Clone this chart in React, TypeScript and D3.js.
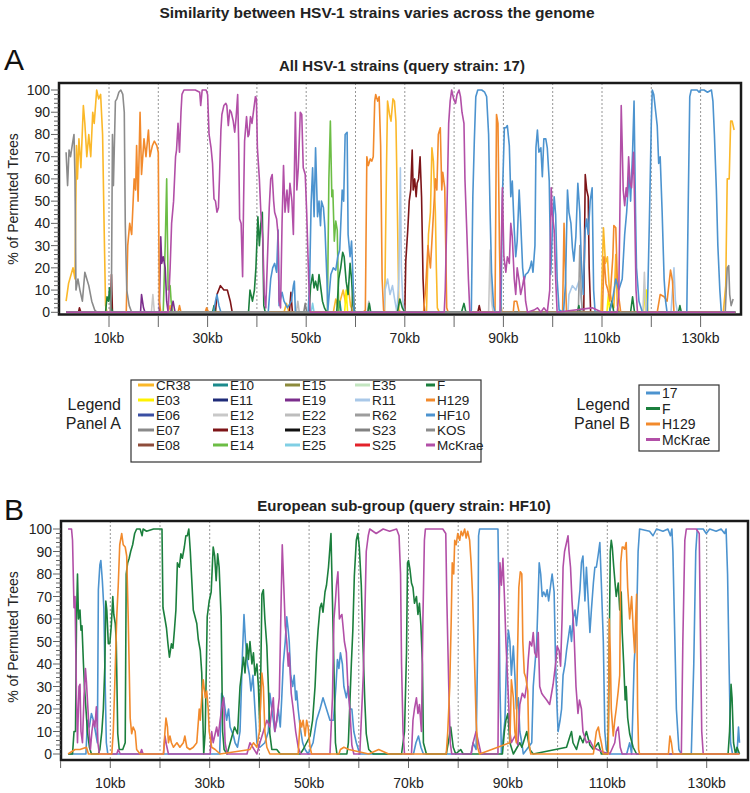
import React from "react";
import * as d3 from "d3";

type Pt = [number, number];

const TITLE = "Similarity between HSV-1 strains varies across the genome";
const TITLE_A = "All HSV-1 strains (query strain: 17)";
const TITLE_B = "European sub-group (query strain: HF10)";
const Y_LABEL = "% of Permuted Trees";
const yTicks = [0, 10, 20, 30, 40, 50, 60, 70, 80, 90, 100];
const yMinor = d3.range(0, 100.01, 2);
const xGridKb = [10, 20, 30, 40, 50, 60, 70, 80, 90, 100, 110, 120, 130];
const xTickKbB = [0, 10, 20, 30, 40, 50, 60, 70, 80, 90, 100, 110, 120, 130];
const xLabelKb = [10, 30, 50, 70, 90, 110, 130];

// ---------- Panel A series (kb, % of permuted trees) ----------
const CR38: Pt[] = [[1.3,5],[1.8,13],[2.7,20],[3.1,15],[3.4,75],[3.6,60],[3.9,78],[4.3,65],[4.8,93],[5.1,85],[5.5,70],[5.9,80],[6.3,70],[6.7,90],[7.0,85],[7.5,100],[7.9,96],[8.3,98],[8.7,80],[9.0,40],[9.3,3],[9.6,0],[22,0],[22.4,3],[22.8,0],[45.5,0],[46,4],[46.5,0],[55.5,0],[56,6],[56.5,2],[57.5,10],[58,4],[58.5,12],[59,3],[59.5,0],[65.9,0],[66.3,67],[66.5,95],[66.9,89],[67.2,86],[67.6,96],[67.9,95],[68.2,86],[68.4,60],[68.8,1],[69.2,0],[74.4,0],[74.8,35],[75.2,45],[75.5,74],[75.8,68],[76.2,45],[76.4,20],[76.6,2],[77,0],[109.8,0],[110.3,38],[110.7,22],[111.1,25],[111.5,10],[112,5],[112.4,2],[112.8,26],[113.1,3],[113.5,0],[134.6,0],[135.1,12],[135.4,60],[135.8,60],[136.1,86],[136.4,86],[136.8,82]];
const E03: Pt[] = [[1.3,0],[57.8,0],[58.1,10],[58.4,0],[111.0,0],[111.3,8],[111.6,0],[118.4,0],[118.7,8],[119.0,10],[119.3,0],[137,0]];
const E06: Pt[] = [[1.3,0],[137,0]];
const E07: Pt[] = [[1.3,72],[1.6,57],[1.9,73],[2.2,70],[2.6,76],[2.9,80],[3.1,60],[3.3,10],[3.7,15],[4.1,10],[4.6,5],[5.1,18],[5.5,15],[5.9,12],[6.5,5],[7.1,1],[7.6,0],[137,0]];
const E08: Pt[] = [[1.3,0],[137,0]];
const E10: Pt[] = [[1.3,0],[56.5,0],[56.8,5],[57.1,0],[137,0]];
const E11: Pt[] = [[1.3,0],[137,0]];
const E12: Pt[] = [[1.3,0],[18.6,0],[18.9,8],[19.2,0],[87.0,0],[87.3,28],[87.6,5],[87.9,0],[118.3,0],[118.6,18],[118.9,0],[137,0]];
const E13: Pt[] = [[1.3,0],[3.8,0],[4.0,2],[4.3,0],[10.3,0],[10.5,17],[10.7,0],[31.6,0],[31.9,8],[32.6,12],[33.3,10],[34.0,10],[34.6,5],[35,0],[46.6,0],[46.9,9],[47.2,0],[70.0,0],[70.2,23],[70.6,37],[70.9,50],[71.2,55],[71.5,73],[71.7,55],[72.0,60],[72.3,52],[72.5,58],[72.8,60],[73.1,70],[73.4,52],[73.7,15],[74.0,0],[84.8,0],[85.1,3],[85.4,0],[106.3,0],[106.6,62],[106.9,55],[107.2,52],[107.4,20],[107.7,0],[137,0]];
const E14: Pt[] = [[1.3,0],[21.0,0],[21.4,30],[21.7,60],[22.0,10],[22.4,12],[22.6,5],[22.9,0],[54.3,0],[54.6,60],[54.9,86],[55.2,52],[55.4,55],[55.7,32],[56.0,41],[56.3,37],[56.6,0],[137,0]];
const E15: Pt[] = [[1.3,0],[59.2,0],[59.5,12],[59.8,0],[137,0]];
const E19: Pt[] = [[1.3,0],[16.4,0],[16.6,8],[17.0,2],[17.3,0],[20.2,0],[20.5,34],[20.7,22],[21.0,25],[21.4,20],[21.7,5],[22.0,0],[22.5,0],[23,5],[23.4,0],[137,0]];
const E22: Pt[] = [[1.3,0],[48.0,0],[48.3,5],[48.6,0],[62.4,0],[62.7,5],[63.0,0],[137,0]];
const E23: Pt[] = [[1.3,0],[137,0]];
const E25: Pt[] = [[1.3,0],[51.0,0],[51.3,4],[51.6,0],[137,0]];
const E35: Pt[] = [[1.3,0],[137,0]];
const R11: Pt[] = [[1.3,0],[65.8,0],[66.0,10],[66.5,15],[67.0,8],[67.5,12],[68.0,5],[68.4,0],[68.8,15],[69.1,65],[69.3,20],[69.6,5],[69.9,0],[103.1,0],[103.3,8],[104.0,12],[104.7,10],[105.3,14],[105.8,5],[106.1,0],[124.0,0],[124.3,10],[124.6,20],[124.9,5],[125.3,0],[137,0]];
const R62: Pt[] = [[1.3,0],[105.2,0],[105.5,30],[105.8,8],[106.0,0],[137,0]];
const S23: Pt[] = [[1.3,0],[49.5,0],[49.8,4],[50.1,0],[137,0]];
const S25: Pt[] = [[1.3,0],[137,0]];
const F_A: Pt[] = [[1.3,0],[9.3,0],[9.6,7],[9.9,5],[10.1,11],[10.4,2],[10.8,0],[31,0],[31.3,3],[31.6,0],[38.3,0],[38.6,10],[39.1,5],[39.5,10],[39.8,20],[40.2,43],[40.5,30],[40.8,40],[41.1,45],[41.4,3],[41.7,0],[50.6,0],[50.9,12],[51.3,17],[51.6,11],[51.9,14],[52.3,10],[52.6,17],[52.9,12],[53.3,5],[53.7,2],[54.2,0],[56.2,0],[56.6,15],[57.0,20],[57.4,27],[57.7,25],[58.1,14],[58.5,8],[58.9,22],[59.2,15],[59.5,3],[59.9,0],[62.5,0],[62.8,4],[63.1,0],[68.5,0],[69,6],[69.5,2],[70,0],[81.5,0],[82,4],[82.4,0],[105,0],[105.3,3],[105.6,0],[111.5,0],[112,5],[112.4,0],[115.8,0],[116.2,7],[116.6,0],[125.5,0],[125.8,3],[126.1,0],[137,0]];
const H129_A: Pt[] = [[1.3,0],[13.5,0],[13.8,30],[14.2,40],[14.6,35],[14.8,45],[15.1,60],[15.4,55],[15.6,75],[15.9,50],[16.3,90],[16.6,62],[17.1,78],[17.5,70],[18.0,82],[18.3,70],[18.8,75],[19.2,77],[19.7,75],[20.0,72],[20.2,5],[20.5,0],[24,0],[24.3,3],[24.6,0],[29.5,0],[29.8,2],[30.2,0],[61.5,0],[62.0,1],[62.3,70],[62.6,66],[63.0,69],[63.3,68],[63.6,70],[63.9,95],[64.1,98],[64.5,95],[64.8,97],[65.1,75],[65.4,15],[65.7,1],[66,0],[73.8,0],[74.2,10],[74.7,30],[75.2,20],[75.7,40],[76.2,60],[76.5,55],[76.8,80],[77.2,83],[77.5,55],[77.7,63],[78.1,56],[78.3,30],[78.5,2],[78.8,0],[88.0,0],[88.3,1],[88.6,89],[88.9,85],[89.2,30],[89.4,5],[89.7,0],[92.0,0],[92.2,5],[92.7,5],[93.2,0],[102,0],[102.3,40],[102.6,15],[102.8,0],[110.1,0],[110.4,25],[110.8,13],[111.2,10],[111.6,5],[112.2,25],[112.4,39],[112.8,38],[113.1,15],[113.4,7],[113.8,0],[121.2,0],[121.8,8],[122.6,7],[123.2,5],[123.9,19],[124.3,14],[124.6,0],[137,0]];
const HF10_A: Pt[] = [[1.3,0],[31.2,0],[31.6,5],[31.9,8],[32.3,3],[32.7,0],[42.3,0],[42.8,15],[43.2,20],[43.6,22],[44.0,18],[44.3,37],[44.5,3],[45.1,9],[45.5,5],[46.2,2],[47.0,5],[47.4,12],[47.6,14],[47.8,0],[50.4,0],[50.7,15],[51.0,49],[51.3,65],[51.6,43],[51.9,74],[52.3,43],[52.6,50],[52.9,39],[53.1,50],[53.5,47],[53.8,38],[54.2,15],[54.4,1],[55.0,17],[55.5,20],[56.0,19],[56.4,25],[56.8,28],[57.3,55],[57.6,50],[57.9,80],[58.3,81],[58.5,35],[58.9,25],[59.2,32],[59.5,15],[59.7,0],[83.3,0],[83.5,1],[83.8,52],[84.1,77],[84.4,97],[84.8,100],[85.6,100],[86.2,99],[86.6,97],[87.0,80],[87.3,45],[87.6,18],[88.0,3],[88.3,0],[89.5,0],[89.8,52],[90.2,83],[90.5,83],[90.8,84],[91.2,75],[91.5,52],[91.8,59],[92.2,37],[92.5,25],[92.8,32],[93.2,55],[93.5,41],[93.9,20],[94.2,14],[94.5,17],[95.0,18],[95.4,20],[95.7,23],[96.0,18],[96.4,30],[96.6,74],[96.9,82],[97.2,72],[97.6,74],[97.9,61],[98.2,78],[98.6,78],[98.9,74],[99.3,59],[99.6,17],[99.9,35],[100.3,52],[100.6,44],[100.9,15],[101.3,1],[102.2,0],[102.6,13],[103.0,55],[103.3,45],[103.7,40],[104.0,29],[104.3,23],[104.7,34],[105.1,58],[105.5,45],[105.8,23],[106.2,8],[106.6,37],[106.9,42],[107.2,35],[107.6,50],[108.0,56],[108.3,10],[108.6,0],[111.5,0],[112.1,5],[112.8,15],[113.4,10],[114.1,15],[114.6,35],[115.0,45],[115.5,63],[115.8,50],[116.2,72],[116.5,95],[116.8,45],[117.0,20],[117.5,5],[118.2,0],[119.2,0],[119.6,40],[120.0,85],[120.2,100],[120.5,98],[120.9,90],[121.2,84],[121.5,67],[121.8,70],[122.2,45],[122.6,15],[122.9,5],[123.2,0],[127.2,0],[127.5,50],[127.8,97],[128.1,100],[129.3,100],[129.7,99],[130.0,100],[130.7,100],[131.4,99],[132.2,100],[132.5,95],[132.8,80],[133.2,55],[133.5,30],[133.9,10],[134.2,0],[137,0]];
const KOS: Pt[] = [[1.3,0],[10.3,0],[10.5,10],[10.7,80],[10.9,57],[11.3,95],[11.6,96],[12.0,99],[12.4,100],[12.8,98],[13.1,90],[13.3,40],[13.6,10],[14.1,3],[14.6,0],[135,0],[135.4,20],[135.7,21],[135.9,8],[136.2,3],[136.6,6]];
const McKrae_A: Pt[] = [[1.3,0],[22.0,0],[22.4,20],[22.7,40],[23.1,50],[23.5,70],[23.7,73],[24.0,85],[24.3,72],[24.6,90],[24.8,98],[25.2,100],[26.5,100],[27.5,100],[28.4,99],[28.6,93],[28.9,100],[29.7,100],[30.0,98],[30.3,80],[30.7,74],[31.0,67],[31.3,51],[31.6,50],[31.9,45],[32.2,47],[32.4,60],[32.7,82],[32.9,89],[33.3,93],[33.7,94],[33.9,93],[34.2,84],[34.5,91],[34.8,90],[35.2,86],[35.5,81],[35.8,88],[36.1,98],[36.3,76],[36.5,42],[36.8,40],[37.1,16],[37.3,50],[37.5,77],[37.9,88],[38.2,79],[38.4,80],[38.7,88],[39.0,85],[39.4,92],[39.7,97],[39.9,96],[40.1,74],[40.5,60],[40.8,45],[41.2,33],[41.5,8],[41.8,2],[42.2,28],[42.5,47],[42.8,60],[43.1,62],[43.4,50],[43.6,45],[44.0,42],[44.3,35],[44.5,5],[44.8,2],[45.1,40],[45.4,66],[45.7,45],[46.1,55],[46.4,45],[46.7,58],[47.1,50],[47.4,35],[47.8,90],[48.1,55],[48.4,65],[48.8,90],[49.1,89],[49.4,65],[49.8,62],[50.1,45],[50.5,15],[50.8,0],[78.0,0],[78.2,10],[78.5,40],[78.9,85],[79.2,95],[79.5,100],[79.9,96],[80.3,94],[80.6,98],[81.0,100],[81.3,97],[81.6,90],[82.0,85],[82.2,60],[82.6,35],[82.9,15],[83.2,0],[89.3,0],[89.8,56],[90.1,25],[90.5,18],[90.8,25],[91.2,22],[91.5,40],[91.8,34],[92.2,15],[92.5,8],[92.8,20],[93.2,14],[93.5,8],[93.9,12],[94.2,16],[94.5,5],[94.9,0],[96.2,1],[96.9,2],[97.6,0],[98.2,2],[98.9,0],[99.4,10],[99.7,56],[99.9,45],[100.3,37],[100.6,15],[100.9,0],[108.0,2],[110.0,0],[113.1,0],[113.4,8],[113.6,40],[113.9,93],[114.1,75],[114.3,55],[114.6,48],[114.9,56],[115.1,52],[115.4,70],[115.7,58],[116.0,56],[116.4,72],[116.6,50],[116.9,10],[117.2,0],[137,0]];

const strainsA = ["CR38","E03","E06","E07","E08","E10","E11","E12","E13","E14","E15","E19","E22","E23","E25","E35","R11","R62","S23","S25","F","H129","HF10","KOS","McKrae"];
const colorsA = ["#fbb829","#fff200","#3a4fa3","#8a8a8a","#8e4c3b","#1b8a8c","#1f2b78","#c8c8c8","#7d1417","#6cbd45","#8c8a3c","#7b2d8c","#bdbdbd","#111111","#80cfe4","#c3e5c0","#a9c8e8","#9d9d9d","#828282","#e3222a","#1b7f3d","#f28a2c","#4c93cf","#8c8c8c","#b24fa7"];
const seriesA: Pt[][] = [CR38,E03,E06,E07,E08,E10,E11,E12,E13,E14,E15,E19,E22,E23,E25,E35,R11,R62,S23,S25,F_A,H129_A,HF10_A,KOS,McKrae_A];

// ---------- Panel B series ----------
const S17_B: Pt[] = [[1.5,0],[5.1,0],[5.4,15],[5.8,12],[6.2,18],[6.6,15],[7.0,10],[7.4,5],[7.6,73],[7.9,84],[8.1,86],[8.4,77],[8.7,65],[8.9,39],[9.2,5],[9.5,0],[32.0,0],[32.4,27],[32.8,25],[33.1,20],[33.4,15],[33.8,20],[34.1,12],[34.8,8],[35.1,5],[35.6,3],[36.1,10],[36.6,45],[36.9,62],[37.2,50],[37.6,40],[38.0,35],[38.3,28],[38.7,35],[39.1,20],[39.5,5],[40.1,3],[41.1,5],[41.8,10],[42.1,27],[42.5,20],[42.8,15],[43.1,10],[43.5,15],[43.8,20],[44.2,12],[44.5,25],[44.8,40],[45.2,50],[45.5,61],[45.8,55],[46.0,50],[46.3,35],[46.7,30],[47.0,35],[47.3,24],[47.5,28],[47.8,20],[48.2,12],[48.7,5],[49.2,2],[49.8,0],[50.8,5],[51.5,15],[52.2,20],[52.8,25],[53.5,20],[54.2,15],[54.9,15],[55.4,30],[55.7,42],[56.0,38],[56.3,45],[56.7,40],[57.0,30],[57.5,25],[57.9,30],[58.2,20],[58.6,20],[59.0,10],[59.5,5],[60.2,0],[71.0,0],[71.5,5],[72.0,8],[72.5,3],[73.0,0],[82.6,0],[83.0,5],[83.6,2],[84.0,60],[84.1,97],[84.3,100],[88.0,100],[88.2,70],[88.4,30],[88.7,0],[89.4,15],[89.7,40],[90.1,55],[90.4,50],[90.7,35],[91.1,48],[91.4,35],[91.7,20],[92.1,25],[92.4,10],[92.8,5],[93.1,0],[94.8,5],[95.1,30],[95.8,50],[96.3,85],[96.6,80],[96.9,70],[97.2,72],[97.6,70],[97.9,73],[98.2,68],[98.6,75],[98.9,80],[99.3,72],[99.6,40],[99.9,20],[100.1,10],[100.5,15],[100.8,20],[101.1,35],[101.5,40],[101.8,46],[102.5,57],[102.8,50],[103.1,60],[103.5,64],[103.8,57],[104.1,64],[104.5,73],[104.8,85],[105.1,88],[105.5,68],[105.8,83],[106.1,71],[106.5,54],[106.8,64],[107.2,76],[107.5,83],[107.8,83],[108.2,89],[108.5,94],[108.8,76],[109.2,50],[109.5,10],[109.8,2],[110.5,0],[113.9,0],[114.5,5],[114.9,0],[115.4,40],[115.9,60],[116.2,90],[116.5,100],[118.5,99],[119.2,97],[119.9,100],[121.2,99],[122.2,100],[122.7,97],[123.0,100],[123.2,90],[123.6,50],[123.9,20],[124.4,2],[124.9,0],[126.9,0],[127.4,40],[127.8,90],[128.1,100],[129.3,100],[129.9,98],[130.6,100],[131.9,99],[132.9,100],[133.6,98],[133.9,100],[134.2,80],[134.5,40],[134.8,5],[135.2,0],[136.1,0],[136.4,12],[136.6,5]];
const F_B: Pt[] = [[1.5,0],[2.4,0],[2.7,10],[3.0,10],[3.2,60],[3.4,80],[3.6,60],[3.9,64],[4.1,55],[4.3,57],[4.6,40],[4.8,30],[5.1,20],[5.4,10],[5.8,3],[6.2,0],[7.6,0],[7.9,2],[8.3,10],[8.6,20],[8.9,39],[9.1,68],[9.3,64],[9.6,49],[9.9,49],[10.2,57],[10.5,70],[10.7,62],[11.0,58],[11.2,50],[11.5,9],[11.8,2],[12.5,2],[13.0,5],[13.2,80],[13.5,85],[13.8,87],[14.1,90],[14.5,93],[14.9,98],[15.3,100],[16.0,100],[16.4,97],[16.6,100],[17.3,99],[18.7,100],[20.4,100],[20.6,65],[21.0,60],[21.3,56],[21.6,49],[21.9,43],[22.3,49],[22.6,47],[22.9,55],[23.2,64],[23.5,85],[23.9,83],[24.2,89],[24.5,87],[24.9,92],[25.2,97],[25.5,97],[25.8,100],[26.1,90],[26.4,77],[26.7,64],[27.4,58],[27.7,51],[28.1,46],[28.4,36],[28.6,18],[28.8,0],[29.1,10],[29.5,61],[29.9,68],[30.3,72],[30.7,92],[31.0,88],[31.3,77],[31.6,89],[31.9,83],[32.3,61],[32.6,10],[32.9,2],[33.5,0],[35.0,12],[35.6,9],[36.1,30],[36.8,43],[37.1,36],[37.5,49],[37.8,42],[38.1,50],[38.5,40],[38.8,45],[39.1,35],[39.5,40],[39.8,30],[40.1,10],[40.4,55],[40.5,71],[40.8,73],[41.1,60],[41.5,48],[41.8,30],[42.1,9],[42.5,2],[43.5,2],[44.2,0],[48.2,0],[48.8,2],[49.5,5],[50.2,8],[50.7,15],[51.2,30],[51.5,45],[51.8,55],[52.2,65],[52.5,67],[52.8,63],[53.2,72],[53.5,75],[53.9,83],[54.2,92],[54.4,98],[54.7,68],[55.0,38],[55.3,5],[55.6,0],[57.6,0],[57.9,5],[58.5,40],[58.8,55],[59.1,79],[59.5,95],[59.8,98],[60.1,92],[60.5,75],[60.8,51],[61.2,24],[61.5,9],[62.0,2],[62.9,0],[68.6,0],[69.2,10],[69.6,45],[69.8,85],[70.0,86],[70.3,82],[70.6,76],[70.9,74],[71.2,67],[71.6,70],[71.9,62],[72.2,67],[72.5,57],[72.8,40],[73.0,5],[73.6,0],[77.6,0],[78.0,5],[78.5,12],[79.0,3],[79.5,0],[80.5,2],[81,0],[88.9,0],[89.3,10],[89.6,15],[90.0,18],[90.4,5],[91.1,0],[92.4,5],[92.8,3],[93.1,5],[93.8,10],[94.4,2],[95.1,0],[101.8,3],[102.5,8],[102.8,10],[103.1,5],[103.8,2],[104.5,8],[105.1,5],[105.8,10],[106.5,4],[107.2,2],[108.2,5],[108.8,0],[110.0,0],[110.2,10],[110.6,90],[110.8,95],[111.0,92],[111.3,83],[111.6,75],[111.8,70],[112.2,76],[112.5,64],[112.8,72],[113.0,54],[113.3,40],[113.6,24],[113.8,30],[114.1,16],[114.5,9],[115.2,3],[115.9,0],[134.3,0],[134.6,10],[134.9,31],[135.1,25],[135.4,5],[135.8,0],[136.1,3],[136.6,0]];
const H129_B: Pt[] = [[1.5,0],[2.9,2],[3.9,2],[5.2,3],[5.6,0],[10.3,0],[10.6,10],[10.9,31],[11.3,61],[11.6,75],[11.9,93],[12.3,98],[12.6,93],[13.0,92],[13.3,88],[13.6,61],[14.0,16],[14.3,9],[14.6,12],[15.0,10],[15.3,2],[16,0],[20.7,0],[21.0,10],[21.2,16],[21.5,12],[21.7,5],[22.0,8],[22.3,5],[22.7,3],[23.4,5],[24.0,3],[24.7,5],[25.0,8],[25.4,3],[26.0,2],[26.7,3],[27.4,5],[27.9,20],[28.1,15],[28.4,25],[28.7,33],[29.1,25],[29.4,28],[29.7,20],[29.9,10],[30.4,3],[31.1,2],[32.1,0],[38.1,2],[38.8,5],[39.5,3],[40.0,10],[40.3,25],[40.5,36],[40.8,30],[41.1,10],[41.5,3],[42.1,0],[47.8,0],[48.2,15],[48.5,12],[48.8,15],[49.2,8],[49.5,15],[49.8,12],[50.2,3],[50.5,0],[56.0,0],[56.3,2],[57.0,3],[58.0,2],[62.0,0],[64,2],[66,0],[77.6,0],[77.9,10],[78.3,30],[78.6,60],[78.8,85],[79.1,80],[79.3,95],[79.6,93],[79.9,98],[80.3,95],[80.6,99],[80.9,97],[81.3,100],[81.6,96],[81.9,99],[82.3,95],[82.6,85],[82.9,70],[83.3,40],[83.6,15],[83.9,3],[84.3,0],[90.4,5],[90.7,33],[91.1,25],[91.4,10],[91.7,5],[91.9,40],[92.2,74],[92.5,81],[92.8,80],[93.0,50],[93.3,36],[93.6,34],[94.0,28],[94.2,5],[94.6,0],[107.2,0],[107.5,5],[107.8,10],[108.2,12],[108.5,8],[108.8,5],[109.2,0],[110.2,0],[110.4,60],[110.6,45],[110.8,20],[111.2,8],[111.5,15],[111.8,20],[112.2,28],[112.5,35],[112.7,85],[113.0,92],[113.2,92],[113.5,91],[113.8,94],[114.1,74],[114.3,67],[114.5,60],[114.9,70],[115.2,56],[115.5,45],[115.7,60],[115.9,71],[116.1,20],[116.3,2],[116.5,0],[122.3,0],[122.6,8],[122.9,5],[123.2,0],[136.6,0]];
const McKrae_B: Pt[] = [[1.5,100],[2.2,100],[2.4,95],[2.7,65],[2.9,70],[3.1,40],[3.2,25],[3.4,5],[3.7,30],[3.9,31],[4.1,10],[4.4,5],[4.7,25],[5.0,38],[5.2,32],[5.5,20],[5.8,8],[6.0,2],[6.3,10],[6.6,15],[6.9,12],[7.2,21],[7.5,5],[7.8,0],[11.3,0],[11.6,2],[12.0,0],[16.0,0],[16.3,2],[16.6,0],[20.7,0],[21.0,8],[21.3,4],[21.7,0],[30.1,0],[30.4,10],[30.7,5],[31.4,12],[31.7,8],[32.1,15],[32.4,20],[32.8,25],[33.1,5],[33.5,0],[37.5,0],[38.1,5],[39.5,0],[40.1,5],[40.8,10],[41.5,15],[42.1,12],[42.5,20],[42.8,25],[43.1,10],[43.5,15],[44.0,25],[44.3,60],[44.6,93],[44.9,75],[45.2,57],[45.5,50],[45.8,39],[46.0,45],[46.4,27],[46.8,20],[47.3,10],[47.8,3],[48.3,0],[54.2,0],[54.7,25],[55.0,60],[55.3,68],[55.5,75],[55.8,81],[56.1,60],[56.3,61],[56.6,62],[56.9,55],[57.1,50],[57.5,45],[57.8,30],[58.2,20],[58.6,4],[59.0,0],[60.2,0],[60.5,15],[60.9,35],[61.2,60],[61.5,90],[61.9,97],[62.2,100],[63.5,98],[64.9,100],[66.2,99],[67.6,100],[68.1,97],[68.4,80],[68.6,40],[68.9,10],[69.2,0],[70.6,0],[70.9,15],[71.2,20],[71.6,25],[71.9,18],[72.2,22],[72.6,10],[72.9,60],[73.2,95],[73.4,100],[74.6,100],[76.9,100],[77.5,98],[77.7,70],[78.1,30],[78.4,5],[78.7,0],[82.6,0],[83.0,5],[83.6,10],[84.1,5],[84.6,0],[88.0,0],[88.2,60],[88.4,85],[88.7,75],[89.0,87],[89.3,70],[89.6,50],[90.0,30],[90.4,10],[90.7,5],[91.4,8],[92.0,4],[92.4,22],[92.9,27],[93.4,25],[93.8,31],[94.1,42],[94.4,50],[94.8,48],[95.1,54],[95.4,45],[95.8,43],[96.1,54],[96.4,30],[96.8,27],[97.1,26],[97.8,24],[98.4,22],[99.1,31],[99.7,42],[99.9,48],[100.3,46],[100.6,39],[100.9,60],[101.1,83],[101.4,90],[101.8,94],[102.1,97],[102.3,90],[102.6,83],[102.9,68],[103.3,54],[103.7,30],[104.1,18],[104.4,24],[104.8,20],[105.1,10],[105.8,5],[106.5,6],[107.2,3],[108,2],[109,1],[110.5,0],[111.5,5],[111.8,10],[112.2,12],[112.6,3],[113,0],[124.9,0],[125.2,50],[125.6,95],[125.9,100],[127.9,100],[128.5,98],[128.7,60],[129.0,10],[129.3,0],[136.6,0]];

const strainsB = ["17", "F", "H129", "McKrae"];
const colorsB = ["#4c93cf", "#1b7f3d", "#f28a2c", "#b24fa7"];
const seriesB: Pt[][] = [S17_B, F_B, H129_B, McKrae_B];
const drawOrderB = [0, 1, 3, 2];

const FONT = "'Liberation Sans', Arial, Helvetica, sans-serif";

type PanelCfg = {
  x0: number; x130: number; y0: number; y100: number;
  fl: number; ft: number; fr: number; fb: number;
  tickTop: number; tickBottom: number; labelY: number;
  xTicks: number[];
  series: Pt[][]; colors: string[]; order: number[];
  title: string; titleX: number; titleY: number;
  letter: string; letterY: number; ylabelY: number;
};

function Panel(c: PanelCfg) {
  const x = d3.scaleLinear().domain([0, 130]).range([c.x0, c.x130]);
  const y = d3.scaleLinear().domain([0, 100]).range([c.y0, c.y100]);
  const line = d3.line<Pt>().x((d) => x(d[0])).y((d) => y(d[1]));
  return (
    <g>
      <text x={4} y={c.letterY} fontSize={30} fontFamily={FONT} fill="#111">{c.letter}</text>
      <text x={c.titleX} y={c.titleY} fontSize={15} fontWeight="bold" fontFamily={FONT} textAnchor="middle" fill="#222">{c.title}</text>
      <text transform={`translate(18,${c.ylabelY}) rotate(-90)`} fontSize={14} fontFamily={FONT} textAnchor="middle" fill="#222">{Y_LABEL}</text>
      {xGridKb.map((k) => (
        <line key={"g" + k} x1={x(k)} x2={x(k)} y1={c.ft} y2={c.fb} stroke="#8a8a8a" strokeWidth={0.9} strokeDasharray="2,2" />
      ))}
      {c.order.map((i) => (
        <path key={"s" + i} d={line(c.series[i]) || ""} fill="none" stroke={c.colors[i]} strokeWidth={1.6} strokeLinejoin="round" />
      ))}
      <rect x={c.fl} y={c.ft} width={c.fr - c.fl} height={c.fb - c.ft} fill="none" stroke="#1a1a1a" strokeWidth={2.5} />
      {yMinor.map((v) => (
        <line key={"m" + v} x1={c.fl - (v % 10 === 0 ? 8 : 5)} x2={c.fl} y1={y(v)} y2={y(v)} stroke="#555" strokeWidth={0.9} />
      ))}
      {yTicks.map((v) => (
        <text key={"yt" + v} x={c.fl - 9} y={y(v) + 5} fontSize={14} fontFamily={FONT} textAnchor="end" fill="#222">{v}</text>
      ))}
      {c.xTicks.map((k) => (
        <line key={"xt" + k} x1={x(k)} x2={x(k)} y1={c.tickTop} y2={c.tickBottom} stroke="#666" strokeWidth={1} />
      ))}
      {xLabelKb.map((k) => (
        <text key={"xl" + k} x={x(k)} y={c.labelY} fontSize={14} fontFamily={FONT} textAnchor="middle" fill="#222">{k + "kb"}</text>
      ))}
    </g>
  );
}

function LegendA() {
  const mStart = [138, 213, 285, 355, 426];
  const tX = [156, 230, 302, 372, 437];
  const rowY = [385, 400, 415, 430, 445];
  return (
    <g fontFamily={FONT}>
      <text x={121} y={410} fontSize={16} textAnchor="end" fill="#222">Legend</text>
      <text x={121} y={429} fontSize={16} textAnchor="end" fill="#222">Panel A</text>
      <rect x={131} y={380} width={350} height={82} fill="#fff" stroke="#333" strokeWidth={1.2} />
      {strainsA.map((s, i) => {
        const col = Math.floor(i / 5);
        const row = i % 5;
        return (
          <g key={s}>
            <line x1={mStart[col]} x2={tX[col] - 2} y1={rowY[row]} y2={rowY[row]} stroke={colorsA[i]} strokeWidth={3} />
            <text x={tX[col]} y={rowY[row] + 5} fontSize={13.5} fill="#222">{s}</text>
          </g>
        );
      })}
    </g>
  );
}

function LegendB() {
  const rowY = [393, 408.5, 424, 439.5];
  return (
    <g fontFamily={FONT}>
      <text x={630} y={410} fontSize={16} textAnchor="end" fill="#222">Legend</text>
      <text x={630} y={429} fontSize={16} textAnchor="end" fill="#222">Panel B</text>
      <rect x={639} y={385} width={80} height={66} fill="#fff" stroke="#333" strokeWidth={1.2} />
      {strainsB.map((s, i) => (
        <g key={s}>
          <line x1={646} x2={660} y1={rowY[i]} y2={rowY[i]} stroke={colorsB[i]} strokeWidth={3} />
          <text x={662} y={rowY[i] + 5} fontSize={14} fill="#222">{s}</text>
        </g>
      ))}
    </g>
  );
}

export default function App() {
  const orderA = seriesA.map((_, i) => i);
  return (
    <svg width={750} height={793} style={{ position: "absolute", left: 0, top: 0, background: "#fff" }}>
      <rect x={0} y={0} width={750} height={793} fill="#fff" />
      <text x={377} y={18} fontSize={15.5} fontWeight="bold" fontFamily={FONT} textAnchor="middle" fill="#222">{TITLE}</text>
      <Panel x0={59.7} x130={700.6} y0={312.3} y100={90} fl={59} ft={83} fr={741} fb={314.5}
        tickTop={316} tickBottom={327} labelY={343} xTicks={xGridKb}
        series={seriesA} colors={colorsA} order={orderA}
        title={TITLE_A} titleX={402} titleY={71} letter="A" letterY={70} ylabelY={199} />
      <LegendA />
      <LegendB />
      <Panel x0={60.6} x130={706.7} y0={754} y100={529} fl={61} ft={521} fr={748} fb={760}
        tickTop={761} tickBottom={768} labelY={788} xTicks={xTickKbB}
        series={seriesB} colors={colorsB} order={drawOrderB}
        title={TITLE_B} titleX={404} titleY={511} letter="B" letterY={520} ylabelY={637} />
    </svg>
  );
}
